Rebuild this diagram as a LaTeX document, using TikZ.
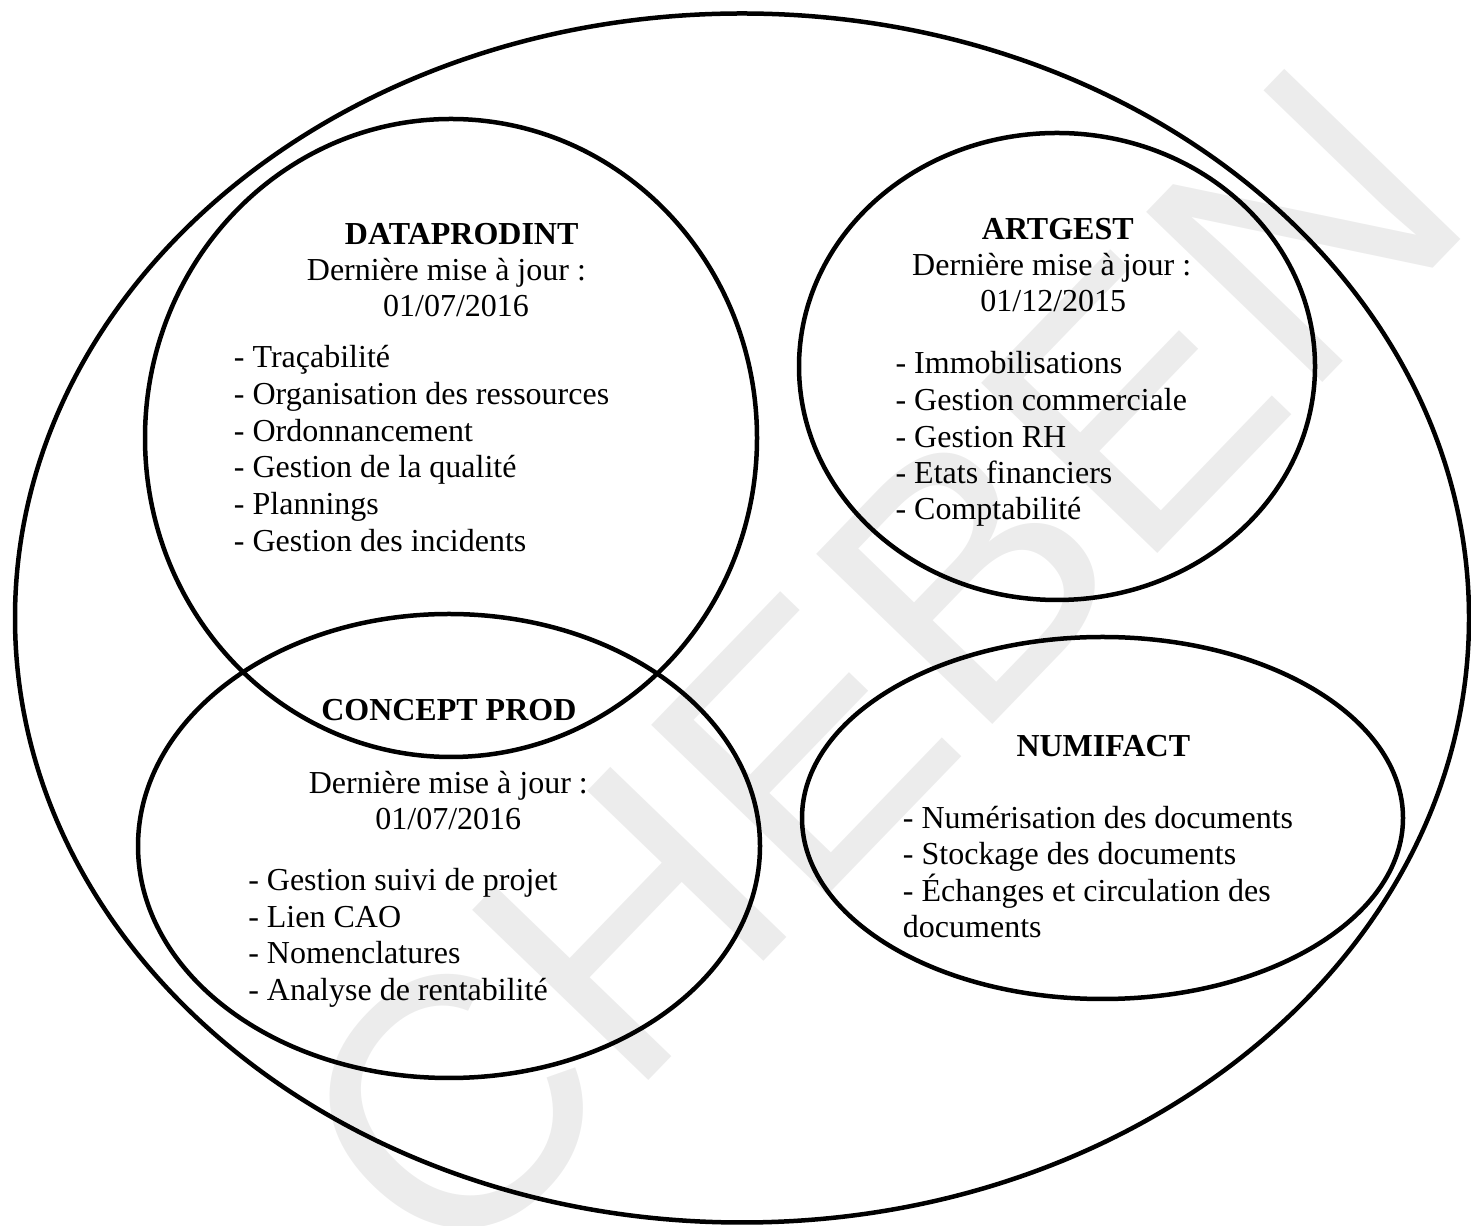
\documentclass[tikz,border=0pt]{standalone}
\usepackage{fontspec}
\setmainfont{Liberation Serif}
\newfontfamily\filigranefont{Liberation Sans}
\usetikzlibrary{shapes}

\definecolor{filcol}{rgb}{0.925,0.925,0.925}
\tikzset{
  venn/.style={ellipse, draw, inner sep=0pt, outer sep=0pt},
  sysname/.style={anchor=base, inner sep=0pt, font=\fontsize{16bp}{18bp}\selectfont\bfseries},
  majline/.style={anchor=base, inner sep=0pt, font=\fontsize{16bp}{18bp}\selectfont},
  entry/.style={anchor=base west, inner sep=0pt, font=\fontsize{16bp}{18bp}\selectfont},
  filigrane/.style={text=filcol, rotate=46, inner sep=0pt, text depth=0pt,
    font=\filigranefont\fontsize{178bp}{178bp}\selectfont}
}

\begin{document}
\begin{tikzpicture}[line join=bevel]
\pgfsetlinewidth{2.25bp}
\pgfsetcolor{black}
\useasboundingbox (0bp,0bp) rectangle (735.5bp,613bp);

% Watermark
\node[filigrane] (fil) at (438bp,280bp) {CHEBEN};

% Node: SI
\node[venn, minimum width=727bp, minimum height=604.5bp] (si) at (371bp,304bp) {};

% Node: DATAPRODINT
\node[venn, minimum width=306bp, minimum height=319bp] (dataprodint) at (225.5bp,394bp) {};
\node[sysname] (d-nom) at (230.85bp,490.85bp) {DATAPRODINT};
\node[majline] (d-maj) at (223.2bp,472.5bp) {Dernière mise à jour :};
\node[majline] (d-date) at (228bp,454.65bp) {01/07/2016};
\node[entry] (d-1) at (115.85bp,429.15bp) {- Traçabilité};
\node[entry] (d-2) at (115.85bp,410.8bp) {- Organisation des ressources};
\node[entry] (d-3) at (115.85bp,392.45bp) {- Ordonnancement};
\node[entry] (d-4) at (115.85bp,374.1bp) {- Gestion de la qualité};
\node[entry] (d-5) at (115.85bp,355.75bp) {- Plannings};
\node[entry] (d-6) at (115.85bp,337.4bp) {- Gestion des incidents};

% Node: ARTGEST
\node[venn, minimum width=258bp, minimum height=233.5bp] (artgest) at (528.5bp,429.75bp) {};
\node[sysname] (a-nom) at (528.9bp,493.35bp) {ARTGEST};
\node[majline] (a-maj) at (525.85bp,475.15bp) {Dernière mise à jour :};
\node[majline] (a-date) at (526.65bp,457.15bp) {01/12/2015};
\node[entry] (a-1) at (446.65bp,426bp) {- Immobilisations};
\node[entry] (a-2) at (446.65bp,407.65bp) {- Gestion commerciale};
\node[entry] (a-3) at (446.65bp,389.35bp) {- Gestion RH};
\node[entry] (a-4) at (446.65bp,371bp) {- Etats financiers};
\node[entry] (a-5) at (446.65bp,353bp) {- Comptabilité};

% Node: CONCEPT PROD
\node[venn, minimum width=311bp, minimum height=232bp] (conceptprod) at (224.5bp,190bp) {};
\node[sysname] (c-nom) at (224.4bp,252.65bp) {CONCEPT PROD};
\node[majline] (c-maj) at (224.15bp,216.35bp) {Dernière mise à jour :};
\node[majline] (c-date) at (224.15bp,198.35bp) {01/07/2016};
\node[entry] (c-1) at (123bp,167.65bp) {- Gestion suivi de projet};
\node[entry] (c-2) at (123bp,149.35bp) {- Lien CAO};
\node[entry] (c-3) at (123bp,131bp) {- Nomenclatures};
\node[entry] (c-4) at (123bp,112.65bp) {- Analyse de rentabilité};

% Node: NUMIFACT
\node[venn, minimum width=300.5bp, minimum height=181bp] (numifact) at (551.25bp,204bp) {};
\node[sysname] (n-nom) at (551.65bp,234.65bp) {NUMIFACT};
\node[entry] (n-1) at (450.35bp,198.85bp) {- Numérisation des documents};
\node[entry] (n-2) at (450.35bp,180.5bp) {- Stockage des documents};
\node[entry] (n-3) at (450.35bp,162.15bp) {- Échanges et circulation des};
\node[entry] (n-4) at (450.35bp,144.15bp) {documents};
%
\end{tikzpicture}
\end{document}
